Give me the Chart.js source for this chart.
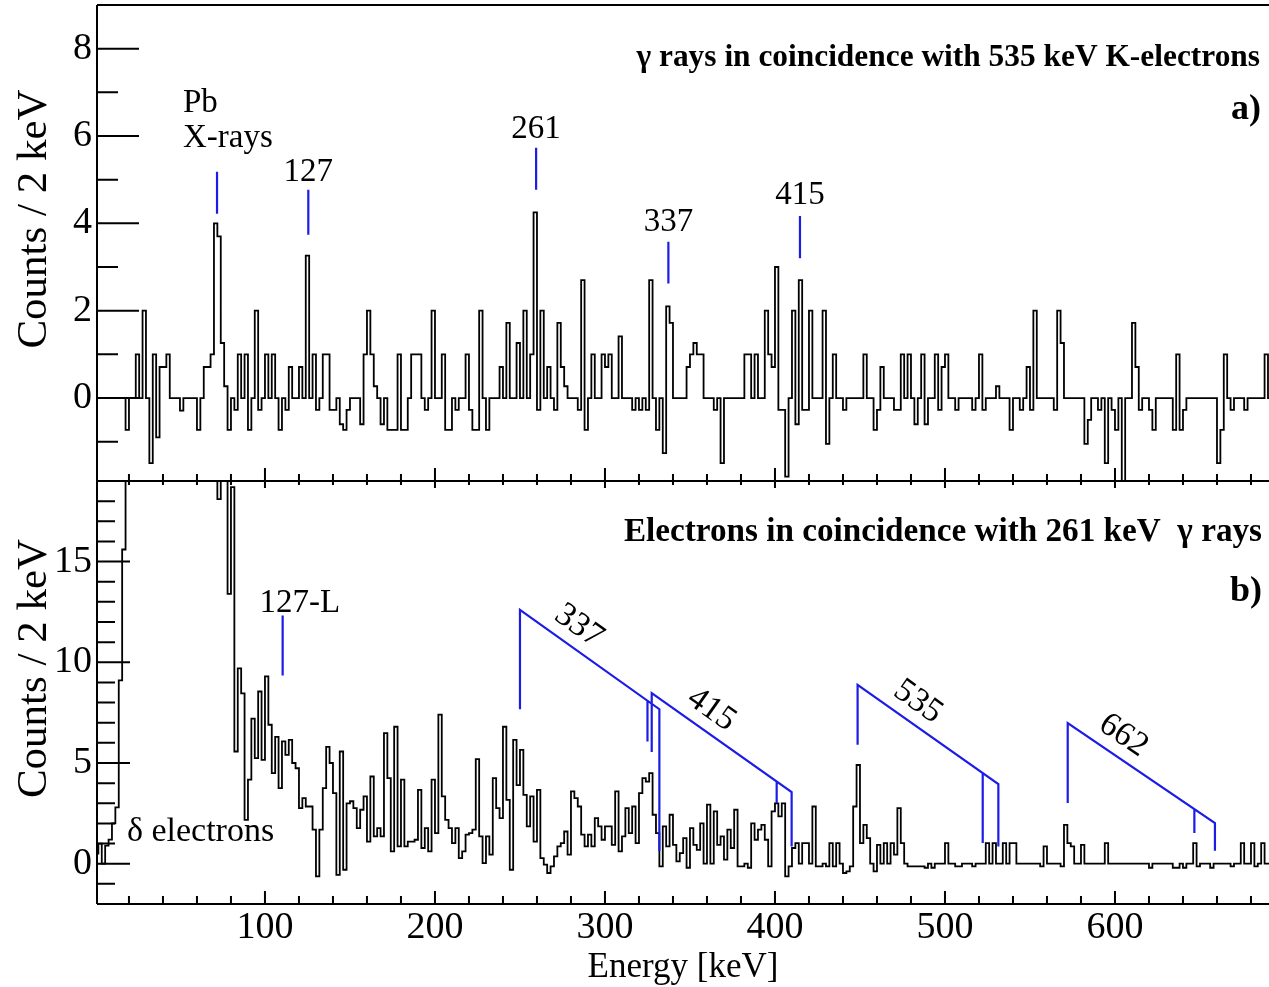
<!DOCTYPE html>
<html><head><meta charset="utf-8">
<script src="https://cdn.jsdelivr.net/npm/chart.js@4.4.1/dist/chart.umd.min.js"></script>
<style>html,body{margin:0;padding:0;background:#fff;overflow:hidden}#wrap{width:1269px;height:987px;position:relative}</style>
</head><body><div id="wrap"><canvas id="c" width="1269" height="987"></canvas></div>
<script>
// ---------- data ----------
const binWidth = 2; // keV per bin
// panel a: gamma rays in coincidence with 535 keV K-electrons (counts / 2 keV, bin k covers [2k, 2k+2] keV)
const countsA = [
 0,0,0,0,0,0,0,0,0,-0.73, 0,0,1,0,2,0,-1.49,1,-0.9,0.71,
 0.71,1,0,0,0,-0.29,0,0,0,0, -0.73,0,0.71,0.71,1,4.0,3.7,1.26,0.27,-0.73,
 0,-0.27,1,0,1,-0.73,0,2,-0.27,0, 1,0,1,0,-0.73,0,-0.27,0.71,0,0,
 0.71,0,3.26,0,1,-0.27,0,1,1,-0.27, -0.27,0,-0.6,-0.73,-0.27,0,0,0,-0.6,1,
 2,1,0.27,0,-0.6,0,-0.73,-0.73,-0.73,1, -0.73,-0.73,0,1,1,1,0,-0.27,0,2,
 0,0,1,-0.73,-0.73,0,-0.27,0,0,1, -0.27,-0.73,-0.73,2,0,-0.73,0,0,0,0.71,
 0,1.72,0,0,1.26,0,2,0,1,4.25, -0.27,2,0,0.71,0,-0.27,1.72,0.71,0.27,0,
 0,0,-0.27,2.7,-0.73,0,1,0,0,1, 0.71,1,0,0,1.41,0,0,0,-0.27,0,
 -0.27,0,-0.27,2.7,0,-0.73,0,-1.26,2.1,1.72, 0,0,0,0,0.71,1,1.26,1,1,0,
 0,0,-0.27,0,-1.49,0,0,0,0,0, 0,1,1,0,1,0,0,2,1,0.71,
 3.0,-0.27,-0.27,-1.8,0,2,-0.6,2.7,-0.27,-0.27, 2,0,0,0,2,-1.05,0,1,0,0,
 -0.27,0,0,0,0,0,1,0,0,-0.73, -0.27,0.71,0,0,0,-0.27,-0.27,1,0,1,
 0,-0.6,0,1,-0.6,0,0,1,-0.27,0.71, 1,0,0,-0.27,0,0,0,0,-0.27,0,
 1,-0.27,0,0,0,0.27,0,0,0,-0.73, 0,0,-0.27,0,0.71,-0.27,2,0,0,0,
 0,0,-0.27,2,1.26,0,0,0,0,0, 0,-1.05,-0.5,0,0,-0.27,0,-1.49,0,-0.27,
 -0.73,0,-2.5,0,0,1.72,0.71,-0.27,0,0, -0.27,-0.73,0,0,0,0,0,-0.73,1,-0.73,
 -0.27,0,0,0,0,0,0,0,0,0, -1.49,-0.73,1,0,-0.27,0,0,0,-0.27,0,
 0,0,0,0,1,0
];
// panel b: electrons in coincidence with 261 keV gamma rays (values above 19 run off the frame)
const countsB = [
 0.5,1.0,0,0.9,1.2,2.0,2.8,9.1,15.6,25, 25,25,25,25,25,25,25,25,25,25,
 25,25,25,25,25,25,25,25,25,25, 25,25,25,25,25,25,18.1,25,25,13.4,
 18.7,5.57,9.7,8.46,2.18,4.17,7.2,5.24,8.55,5.16, 9.3,6.9,4.5,6.3,3.75,6.07,5.4,6.15,5.0,4.74,
 2.76,3.26,2.84,2.84,1.69,-0.63,1.69,3.75,5.8,5.0, 3.5,-0.55,5.57,-0.3,3.0,3.1,2.76,1.77,2.68,3.34,
 1.1,4.33,1.36,1.77,1.36,6.48,4.25,0.61,6.8,0.86, 4.17,0.86,1.1,1.1,1.19,3.67,0.78,1.77,0.61,4.17,
 1.52,7.4,3.34,2.18,1.77,1.02,1.77,0.28,0.61,1.44, 1.52,1.69,5.19,1.36,0.03,1.36,0.45,4.25,2.76,2.26,
 6.8,3.17,-0.3,6.15,3.9,5.65,3.42,1.85,3.34,1.1, 3.67,0.28,-0.05,-0.46,-0.13,0.36,0.86,1.02,1.6,0.45,
 3.59,3.26,2.84,1.44,0.86,1.44,0.86,2.26,1.85,1.19, 1.85,1.85,0.94,3.59,0.61,1.36,2.76,1.52,2.84,1.02,
 3.5,4.25,4.08,4.5,2.43,1.52,-0.13,1.85,0.86,2.43, 0.94,0.12,0.53,1.27,-0.2,1.77,0.94,0.69,2.0,0,
 2.93,0,2.6,0.94,1.36,0.2,1.69,0.78,2.68,-0.13, -0.13,0,-0.2,2.0,1.19,1.69,1.93,1.19,-0.13,2.6,
 3.0,2.35,3.0,-0.63,-0.13,0.78,1.02,0,1.02,1.02, 0,2.84,-0.13,-0.13,0,-0.13,1.02,-0.13,1.02,0,
 -0.46,-0.38,-0.13,2.84,4.9,1.02,1.93,1.27,0,-0.38, 0.94,0,1.02,0,1.02,0.45,2.76,1.02,0,-0.13,
 -0.13,-0.13,-0.13,-0.13,-0.2,0,-0.2,0,0,0, 1.02,0,0,-0.13,-0.13,0,0,0,-0.13,0,
 0,0,1.02,0,1.02,0,0,1.02,0,1.02, 1.02,0,0,0,0,0,0,0,-0.13,0.86,
 0,0,0,0,-0.13,1.93,1.02,0.86,0,0, 0.94,0,0,0,0,0,0,1.02,0,0,
 0,0,0,0,0,0,0,0,0,0, -0.2,0,0,0,0,0,0,-0.2,-0.2,0,
 -0.2,0,0,1.02,-0.13,0,0,0,-0.2,0, 0,0,0,0,-0.13,0,0,1.02,0,0,
 1.02,-0.13,0,1.02,0,0
];
const xTickLabels = [100, 200, 300, 400, 500, 600];
const yTicksA = [0, 2, 4, 6, 8];
const yTicksB = [0, 5, 10, 15];
// gamma-line markers of panel a (energy keV, marker from lo to hi counts, label baseline)
const markersA = [
 {text: '127', e: 125.5, lo: 3.74, hi: 4.77, ty: 4.97},
 {text: '261', e: 259.5, lo: 4.77, hi: 5.73, ty: 5.96},
 {text: '337', e: 337.3, lo: 2.62, hi: 3.58, ty: 3.83},
 {text: '415', e: 414.7, lo: 3.2,  hi: 4.17, ty: 4.45}
];
const pbMarker = {e: 71.8, lo: 4.22, hi: 5.18};
const markerB127L = {e: 110.4, lo: 9.35, hi: 12.32};
// K / L / M conversion-line combs of panel b
const convGroups = [
 {label: '337', kE: 250,   kTop: 12.6, kBot: 7.67, lE: 325,   lBot: 6.07, mE: 332,   mTop: 7.67, mBot: 0.63, textE: 277.5},
 {label: '415', kE: 327.5, kTop: 8.47, kBot: 5.55, lE: 401,   lBot: 3.01, mE: 409.8, mTop: 3.56, mBot: 0.86, textE: 355.5},
 {label: '535', kE: 448.6, kTop: 8.88, kBot: 5.9,  lE: 522.2, lBot: 1.03, mE: 531.4, mTop: 3.95, mBot: 0.86, textE: 477},
 {label: '662', kE: 572.2, kTop: 6.98, kBot: 3.01, lE: 646.7, lBot: 1.52, mE: 658.8, mTop: 2.02, mBot: 0.64, textE: 598}
];

// ---------- chart ----------
const SERIF = "'Liberation Serif', 'DejaVu Serif', serif";
const BLUE = '#1c1ce6';
const Y_TITLE = 'Counts / 2 keV';
// one point per bin lower edge plus a closing point; 'before' keeps each bin's value over [edge, edge+width]
function toSteps(arr) {
  const pts = arr.map((v, k) => ({x: k * binWidth, y: v}));
  pts.push({x: arr.length * binWidth, y: arr[arr.length - 1]});
  return pts;
}

const panelClip = {
  id: 'panelClip',
  beforeDatasetDraw(chart, args) {
    const y = args.meta.yScale, a = chart.chartArea, ctx = chart.ctx;
    ctx.save(); ctx.beginPath();
    ctx.rect(a.left, y.top, a.right - a.left, y.bottom - y.top);
    ctx.clip();
  },
  afterDatasetDraw(chart) { chart.ctx.restore(); }
};

const frame = {
  id: 'frame',
  afterDatasetsDraw(chart) {
    const {ctx, chartArea: a, scales} = chart;
    const x = scales.x, ya = scales.ya, yb = scales.yb;
    ctx.save();
    ctx.strokeStyle = '#000'; ctx.lineWidth = 2; ctx.lineCap = 'butt';
    ctx.beginPath();
    ctx.moveTo(a.left, a.top); ctx.lineTo(a.left, a.bottom);
    [a.top, ya.bottom, a.bottom].forEach(yy => { ctx.moveTo(a.left, yy); ctx.lineTo(a.right + 2, yy); });
    // y ticks (inward)
    for (let v = Math.ceil(ya.min); v <= ya.max; v++) {
      const len = v % 2 === 0 ? 42 : 21, py = ya.getPixelForValue(v);
      ctx.moveTo(a.left, py); ctx.lineTo(a.left + len, py);
    }
    for (let v = Math.ceil(yb.min); v <= yb.max; v++) {
      const len = v % 5 === 0 ? 33 : 18, py = yb.getPixelForValue(v);
      ctx.moveTo(a.left, py); ctx.lineTo(a.left + len, py);
    }
    // x ticks (inward, on both panels)
    for (let e = 20; e <= x.max; e += 20) {
      const px = x.getPixelForValue(e), major = e % 100 === 0;
      ctx.moveTo(px, a.bottom); ctx.lineTo(px, a.bottom - (major ? 13 : 8));
      ctx.moveTo(px, ya.bottom); ctx.lineTo(px, ya.bottom - (major ? 13 : 7));
      ctx.moveTo(px, yb.top); ctx.lineTo(px, yb.top + (major ? 7 : 4));
    }
    ctx.stroke();
    ctx.restore();
  }
};

const notes = {
  id: 'notes',
  afterDraw(chart) {
    const {ctx, chartArea: a, scales} = chart;
    const x = scales.x, ya = scales.ya, yb = scales.yb;
    ctx.save();
    // blue markers
    ctx.strokeStyle = BLUE; ctx.lineWidth = 2.2;
    ctx.beginPath();
    [...markersA, pbMarker].forEach(m => {
      const px = x.getPixelForValue(m.e);
      ctx.moveTo(px, ya.getPixelForValue(m.lo)); ctx.lineTo(px, ya.getPixelForValue(m.hi));
    });
    {
      const px = x.getPixelForValue(markerB127L.e);
      ctx.moveTo(px, yb.getPixelForValue(markerB127L.lo)); ctx.lineTo(px, yb.getPixelForValue(markerB127L.hi));
    }
    // conversion combs, panel b
    convGroups.forEach(g => {
      const X = e => x.getPixelForValue(e), Y = v => yb.getPixelForValue(v);
      const lTop = g.kTop + (g.mTop - g.kTop) * (g.lE - g.kE) / (g.mE - g.kE);
      ctx.moveTo(X(g.kE), Y(g.kBot)); ctx.lineTo(X(g.kE), Y(g.kTop));
      ctx.lineTo(X(g.mE), Y(g.mTop)); ctx.lineTo(X(g.mE), Y(g.mBot));
      ctx.moveTo(X(g.lE), Y(lTop)); ctx.lineTo(X(g.lE), Y(g.lBot));
    });
    ctx.stroke();

    ctx.fillStyle = '#000';
    // y-axis titles (rotated)
    ctx.font = `43px ${SERIF}`;
    ctx.textAlign = 'center'; ctx.textBaseline = 'middle';
    [ya, yb].forEach(s => {
      ctx.save();
      ctx.translate(35, (s.top + s.bottom) / 2 - 24);
      ctx.rotate(-Math.PI / 2);
      ctx.fillText(Y_TITLE, 0, 0);
      ctx.restore();
    });

    // texts
    ctx.font = `33px ${SERIF}`;
    ctx.textBaseline = 'alphabetic';
    ctx.textAlign = 'center';
    markersA.forEach(m => ctx.fillText(m.text, x.getPixelForValue(m.e), ya.getPixelForValue(m.ty)));
    ctx.textAlign = 'left';
    ctx.fillText('Pb', x.getPixelForValue(51.8), ya.getPixelForValue(6.55));
    ctx.fillText('X-rays', x.getPixelForValue(51.8), ya.getPixelForValue(5.75));
    ctx.textAlign = 'center';
    ctx.fillText('127-L', x.getPixelForValue(120.5), yb.getPixelForValue(12.5));
    ctx.textAlign = 'left';
    ctx.font = `34px ${SERIF}`;
    ctx.fillText('δ electrons', x.getPixelForValue(18.8), yb.getPixelForValue(1.13));

    // rotated comb labels
    ctx.font = `34px ${SERIF}`;
    ctx.textAlign = 'center'; ctx.textBaseline = 'middle';
    convGroups.forEach(g => {
      const x0 = x.getPixelForValue(g.kE), y0 = yb.getPixelForValue(g.kTop);
      const x1 = x.getPixelForValue(g.mE), y1 = yb.getPixelForValue(g.mTop);
      const ang = Math.atan2(y1 - y0, x1 - x0);
      const px = x.getPixelForValue(g.textE);
      const py = y0 + (y1 - y0) * (px - x0) / (x1 - x0);
      ctx.save(); ctx.translate(px, py); ctx.rotate(ang);
      ctx.fillText(g.label, 0, -21);
      ctx.restore();
    });

    // panel titles
    ctx.textAlign = 'right'; ctx.textBaseline = 'alphabetic';
    ctx.font = `bold 31.4px ${SERIF}`;
    ctx.fillText('γ rays in coincidence with 535 keV K-electrons', a.right - 9, ya.top + 61);
    ctx.font = `bold 33.2px ${SERIF}`;
    ctx.fillText('Electrons in coincidence with 261 keV  γ rays', a.right - 7, yb.top + 60);
    ctx.font = `bold 36px ${SERIF}`;
    ctx.fillText('a)', a.right - 8, ya.top + 114);
    ctx.fillText('b)', a.right - 7, yb.top + 120);
    ctx.restore();
  }
};

const yCommon = (min, max, ticks, weight) => ({
  type: 'linear', position: 'left', stack: 'panels', stackWeight: weight,
  min, max,
  grid: {display: false, drawTicks: false}, border: {display: false},
  ticks: {color: '#000', font: {family: SERIF, size: 38}, padding: 5, autoSkip: false},
  title: {display: false},
  afterBuildTicks: s => { s.ticks = ticks.map(v => ({value: v})); },
  afterFit: s => { s.width = 97; s.paddingTop = 0; s.paddingBottom = 0; }
});

new Chart(document.getElementById('c'), {
  type: 'line',
  data: {datasets: [
    {data: toSteps(countsA), yAxisID: 'ya', xAxisID: 'x', stepped: 'before', borderColor: '#000', borderWidth: 1.8, pointRadius: 0, fill: false, clip: false},
    {data: toSteps(countsB), yAxisID: 'yb', xAxisID: 'x', stepped: 'before', borderColor: '#000', borderWidth: 1.8, pointRadius: 0, fill: false, clip: false}
  ]},
  options: {
    responsive: false, animation: false, devicePixelRatio: 1,
    layout: {padding: {top: 5, right: 0, bottom: 0, left: 0}},
    plugins: {legend: {display: false}, tooltip: {enabled: false}, title: {display: false}},
    scales: {
      x: {
        type: 'linear', position: 'bottom', min: 1.2, max: 690.6,
        grid: {display: false, drawTicks: false}, border: {display: false},
        ticks: {color: '#000', font: {family: SERIF, size: 38}, padding: 1, autoSkip: false, maxRotation: 0,
                callback: v => String(v)},
        title: {display: true, text: 'Energy [keV]', color: '#000', font: {family: SERIF, size: 35}, padding: {top: 0, bottom: -2}},
        afterBuildTicks: s => { s.ticks = xTickLabels.map(v => ({value: v})); },
        afterFit: s => { s.height = 83; s.paddingLeft = 0; s.paddingRight = 0; }
      },
      yb: yCommon(-2.0, 19.0, yTicksB, 423),
      ya: yCommon(-1.9, 9.0, yTicksA, 476)
    }
  },
  plugins: [panelClip, frame, notes]
});
</script></body></html>
